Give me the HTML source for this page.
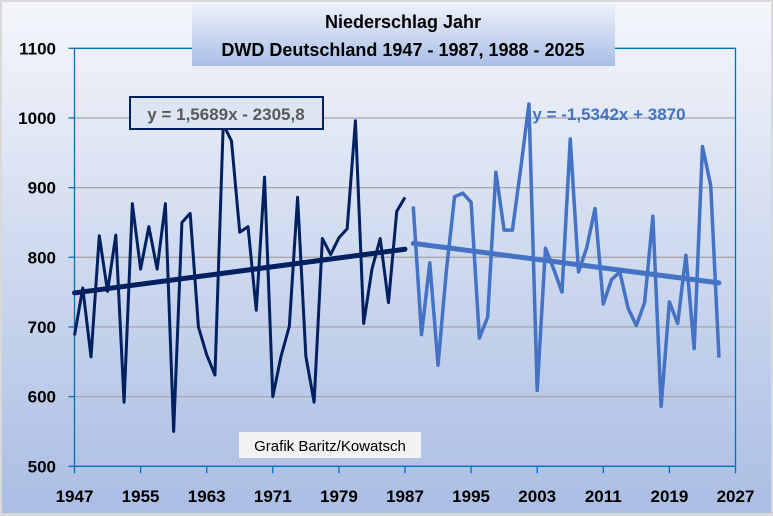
<!DOCTYPE html>
<html><head><meta charset="utf-8"><style>
html,body{margin:0;padding:0;}
body{width:773px;height:516px;overflow:hidden;background:#d9d9d9;font-family:"Liberation Sans",sans-serif;}
#wrap{position:absolute;left:2px;top:2px;width:769px;height:511px;background:linear-gradient(#f4f6fb,#aabde3);}
svg{position:absolute;left:0;top:0;}
</style></head><body>
<div id="wrap"></div>
<svg id="chart" width="773" height="516"></svg>
<script>
const years1=[1947,1948,1949,1950,1951,1952,1953,1954,1955,1956,1957,1958,1959,1960,1961,1962,1963,1964,1965,1966,1967,1968,1969,1970,1971,1972,1973,1974,1975,1976,1977,1978,1979,1980,1981,1982,1983,1984,1985,1986,1987];
const values1=[688,756,657,831,751,832,592,877,783,844,783,877,550,850,863,700,660,631,991,967,836,844,724,915,600,658,701,886,658,592,827,804,828,841,996,705,783,827,735,866,886];
const years2=[1988,1989,1990,1991,1992,1993,1994,1995,1996,1997,1998,1999,2000,2001,2002,2003,2004,2005,2006,2007,2008,2009,2010,2011,2012,2013,2014,2015,2016,2017,2018,2019,2020,2021,2022,2023,2024,2025];
const values2=[873,689,792,645,780,887,892,879,684,714,922,839,839,927,1020,609,813,783,750,970,779,814,870,733,768,779,727,702,735,859,586,736,705,803,669,959,903,656];
const yTicks=[500,600,700,800,900,1000,1100];
const xTicks=[1947,1955,1963,1971,1979,1987,1995,2003,2011,2019,2027];
const trend1={a:1.5689,b:-2305.8,from:1947,to:1987};
const trend2={a:-1.5342,b:3870,from:1988,to:2025};

const L=74.5,R=735.5,T=48.3,B=466.3;
const X=y=>L+(y-1947)/(2027-1947)*(R-L);
const Y=v=>B-(v-500)/(1100-500)*(B-T);
const svg=document.getElementById('chart');
const NS='http://www.w3.org/2000/svg';
function mk(tag,attrs,parent){const e=document.createElementNS(NS,tag);for(const k in attrs)e.setAttribute(k,attrs[k]);(parent||svg).appendChild(e);return e;}

// grid
yTicks.forEach(v=>{
  if(v>500&&v<1100){const g=mk('line',{x1:L,x2:R,y1:Y(v),y2:Y(v),stroke:'#a6a6a6','stroke-width':1.3});
  
  }
  const t=mk('text',{x:56,y:Y(v)+6,'text-anchor':'end','font-size':17,'font-weight':'bold',fill:'#000'});
  t.textContent=v;
  
  
  const tk=mk('line',{x1:L-6,x2:L,y1:Y(v),y2:Y(v),stroke:'#0070c0','stroke-width':1.3});
  
  
});
// axes frame
const fr=mk('polyline',{points:`${L},${T} ${L},${B} ${R},${B} ${R},${T} ${L},${T}`,fill:'none',stroke:'#0070c0','stroke-width':1.3});


xTicks.forEach(y=>{
  const tk=mk('line',{x1:X(y),x2:X(y),y1:B,y2:B+7,stroke:'#0070c0','stroke-width':1.3});
  
  
  const t=mk('text',{x:X(y),y:502,'text-anchor':'middle','font-size':17,'font-weight':'bold',fill:'#000'});
  t.textContent=y;
  
  
});
// series
const p1=mk('polyline',{points:years1.map((y,i)=>X(y)+','+Y(values1[i])).join(' '),fill:'none',stroke:'#002060','stroke-width':3,'stroke-linejoin':'round'});


const p2=mk('polyline',{points:years2.map((y,i)=>X(y)+','+Y(values2[i])).join(' '),fill:'none',stroke:'#4472c4','stroke-width':3.5,'stroke-linejoin':'round'});


const t1=mk('line',{x1:X(trend1.from),y1:Y(trend1.a*trend1.from+trend1.b),x2:X(trend1.to),y2:Y(trend1.a*trend1.to+trend1.b),stroke:'#002060','stroke-width':5,'stroke-linecap':'round'});


const t2=mk('line',{x1:X(trend2.from),y1:Y(trend2.a*trend2.from+trend2.b),x2:X(trend2.to),y2:Y(trend2.a*trend2.to+trend2.b),stroke:'#4472c4','stroke-width':5,'stroke-linecap':'round'});


</script>
<svg width="773" height="516" style="position:absolute;left:0;top:0">
<defs><linearGradient id="tg" x1="0" y1="0" x2="0" y2="1"><stop offset="0" stop-color="#eef2fa"/><stop offset="1" stop-color="#a9bfe6"/></linearGradient></defs>
<g>
<rect x="192" y="3" width="423" height="63" fill="url(#tg)"/>
<text x="403" y="28" text-anchor="middle" font-size="18" font-weight="bold" fill="#000">Niederschlag Jahr</text>
<text x="403" y="56" text-anchor="middle" font-size="18" font-weight="bold" fill="#000">DWD Deutschland 1947 - 1987, 1988 - 2025</text>
</g>
<g>
<rect x="130" y="97" width="193" height="32" fill="#dde5f3" stroke="#002060" stroke-width="2"/>
<text x="226" y="120" text-anchor="middle" font-size="17" font-weight="bold" fill="#595959">y = 1,5689x - 2305,8</text>
</g>
<text x="609" y="120" text-anchor="middle" font-size="17" font-weight="bold" fill="#4472c4">y = -1,5342x + 3870</text>
<g>
<rect x="239" y="432" width="182" height="26" fill="#f2f2f2"/>
<text x="330" y="451" text-anchor="middle" font-size="15" fill="#000">Grafik Baritz/Kowatsch</text>
</g>
</svg>
</body></html>
